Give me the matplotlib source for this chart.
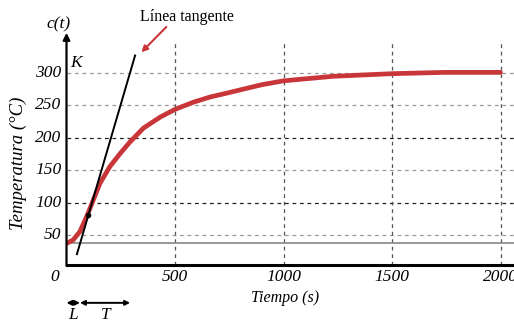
import numpy as np
import matplotlib.pyplot as plt

# temperature response
tiempo = [0, 31, 62, 93, 123, 154, 200, 247, 293, 354, 431, 500, 584, 661, 738,
          800, 900, 1000, 1229, 1500, 1740, 2000]
temperatura = [37.5, 43, 56, 79, 104, 130, 156, 176, 194, 215, 232, 244, 255, 263, 269,
               274, 282, 288, 295, 299, 301, 301]

tangent_x = [48, 316]
tangent_y = [21, 327]
tangent_pt = (100, 82)

baseline = 37.5
L_end = 62
T_end = 293

y_ticks = [50, 100, 150, 200, 250, 300]
x_ticks = [500, 1000, 1500, 2000]

plt.rcParams['font.family'] = ['Liberation Serif', 'DejaVu Serif']
fsz = 11.5
tsz = 12.5

fig = plt.figure(figsize=(5.14, 3.24), dpi=100)
ax = fig.add_axes([66.5 / 514, (324 - 265) / 324, (514 - 66.5) / 514, 265 / 324])
ax.set_xlim(0, 2062)
ax.set_ylim(4.3, 412.5)
for s in ax.spines.values():
    s.set_visible(False)

# grid
for y in y_ticks:
    dark = y in (100, 200)
    ax.plot([0, 2062], [y, y], ls=(0, (3, 3)), lw=0.9,
            color='#222222' if dark else '#999999', zorder=1)
for x in x_ticks:
    ax.plot([x, x], [4.3, 350], ls=(0, (3, 3)), lw=0.9, color='#555555', zorder=1)

ax.plot([0, 2062], [baseline, baseline], color='#888888', lw=1.2, zorder=1)
ax.plot([0, 2062], [4.3, 4.3], color='black', lw=2.2, clip_on=False, zorder=3)

# y axis arrow
ax.annotate('', xy=(0, 362), xytext=(0, 3),
            arrowprops=dict(arrowstyle='-|>', color='black', lw=1.6,
                            mutation_scale=10, shrinkA=0, shrinkB=0),
            annotation_clip=False, zorder=4)

ax.plot(tiempo, temperatura, color='#c8363a', lw=3.4, solid_capstyle='round',
        solid_joinstyle='round', zorder=3)
ax.plot(tangent_x, tangent_y, color='black', lw=1.4, zorder=4)
ax.plot(*tangent_pt, 'o', color='black', ms=3, zorder=5)

ax.set_xticks([])
ax.set_yticks([])
for y in y_ticks:
    ax.text(-22, y, str(y), ha='right', va='center', style='italic', fontsize=tsz)
for x in x_ticks:
    ax.text(x, -14, str(x), ha='center', va='center', style='italic', fontsize=tsz)
ax.text(-55, -14, '0', ha='center', va='center', style='italic', fontsize=tsz)

ax.text(-35, 362, 'c(t)', ha='center', va='bottom', style='italic', fontsize=tsz, clip_on=False)
ax.text(15, 316, 'K', ha='left', va='center', style='italic', fontsize=tsz)
ax.text(1007, -47, 'Tiempo (s)', ha='center', va='center', style='italic', fontsize=fsz)
fig.text(18 / 514, 1 - 163 / 324, 'Temperatura (°C)', rotation=90, ha='center', va='center',
         style='italic', fontsize=13.5)

ax.text(557, 386, 'Línea tangente', ha='center', va='center', fontsize=fsz)
ax.annotate('', xy=(345, 332), xytext=(460, 371),
            arrowprops=dict(arrowstyle='-|>', color='#c8363a', lw=1.5,
                            mutation_scale=9, shrinkA=0, shrinkB=0),
            annotation_clip=False)

# L and T arrows
arr = dict(arrowstyle='<|-|>', color='black', lw=1.4, mutation_scale=7, shrinkA=0, shrinkB=0)
ax.annotate('', xy=(0, -54), xytext=(L_end, -54), arrowprops=arr, annotation_clip=False)
ax.annotate('', xy=(L_end, -54), xytext=(T_end, -54), arrowprops=arr, annotation_clip=False)
ax.text(31, -72, 'L', ha='center', va='center', style='italic', fontsize=tsz)
ax.text(180, -72, 'T', ha='center', va='center', style='italic', fontsize=tsz)

fig.savefig('out.png', dpi=100)
